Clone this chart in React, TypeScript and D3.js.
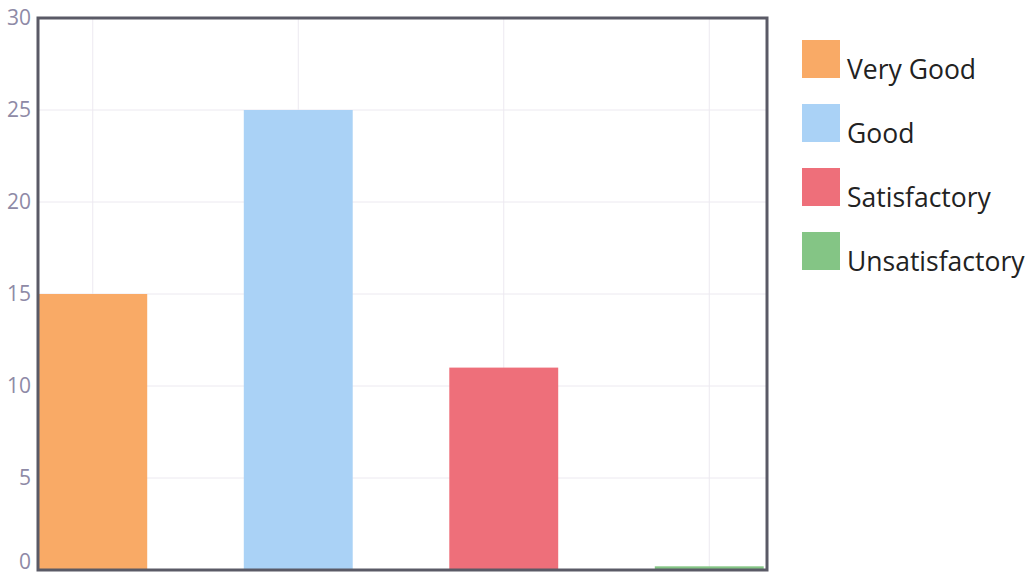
import React from "react";
import * as d3 from "d3";

const categories = ["Very Good", "Good", "Satisfactory", "Unsatisfactory"];
const values = [15, 25, 11, 0.2];
const colors = ["#f9aa66", "#aad2f6", "#ee6f7a", "#84c585"];
const yTicks = [0, 5, 10, 15, 20, 25, 30];

const W = 1030;
const H = 576;
const plot = { left: 38, right: 767, top: 18, bottom: 570 };

export default function App() {
  const y = d3.scaleLinear().domain([0, 30]).range([plot.bottom, plot.top]);
  const x = d3
    .scaleBand<string>()
    .domain(categories)
    .range([-10, 812])
    .paddingInner(0.47)
    .paddingOuter(0.235);

  return (
    <svg
      width={W}
      height={H}
      style={{ position: "absolute", left: 0, top: 0, background: "#fff" }}
      fontFamily="'Open Sans', sans-serif"
    >
      <defs>
        <clipPath id="plotclip">
          <rect x={plot.left} y={plot.top} width={plot.right - plot.left} height={plot.bottom - plot.top} />
        </clipPath>
      </defs>
      {yTicks.map((t) => (
        <line key={"g" + t} x1={plot.left} x2={plot.right} y1={y(t)} y2={y(t)} stroke="#ece9f0" strokeWidth={1} />
      ))}
      {categories.map((c) => (
        <line
          key={"v" + c}
          x1={x(c)! + x.bandwidth() / 2}
          x2={x(c)! + x.bandwidth() / 2}
          y1={plot.top}
          y2={plot.bottom}
          stroke="#ece9f0"
          strokeWidth={1}
        />
      ))}
      <g clipPath="url(#plotclip)">
        {categories.map((c, i) => (
          <rect
            key={c}
            x={x(c)}
            y={y(values[i])}
            width={x.bandwidth()}
            height={y(0) - y(values[i])}
            fill={colors[i]}
          />
        ))}
      </g>
      <rect
        x={plot.left}
        y={plot.top}
        width={plot.right - plot.left}
        height={plot.bottom - plot.top}
        fill="none"
        stroke="#5a5a66"
        strokeWidth={3}
      />
      {yTicks.map((t) => (
        <text
          key={"t" + t}
          x={31}
          y={Math.min(y(t), 562)}
          dy="0.35em"
          textAnchor="end"
          fontSize={21}
          fill="#8e8aa6"
        >
          {t}
        </text>
      ))}
      {categories.map((c, i) => (
        <g key={"l" + c} transform={`translate(802, ${40 + i * 64})`}>
          <rect x={0} y={0} width={38} height={38} fill={colors[i]} />
          <text x={45} y={39} fontSize={26.5} fill="#222">
            {c}
          </text>
        </g>
      ))}
    </svg>
  );
}
